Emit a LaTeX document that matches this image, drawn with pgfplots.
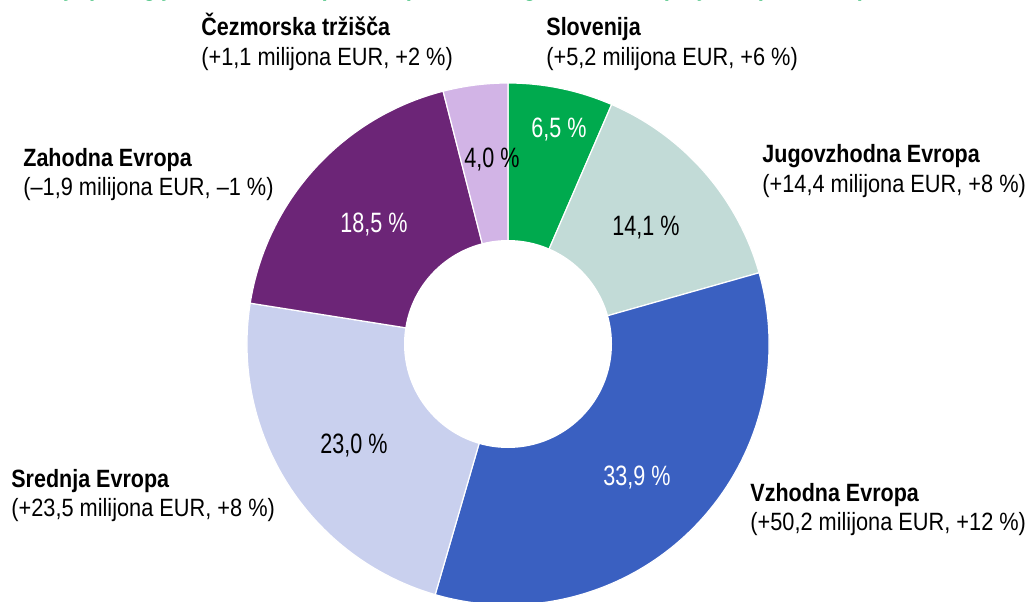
\documentclass[border=0pt]{standalone}
\usepackage{fontspec}
\setmainfont{Liberation Sans}
\usepackage{graphicx}
\usepackage{pgfplots}
\pgfplotsset{compat=1.18}
\definecolor{cSlo}{HTML}{00AA4E}
\definecolor{cJV}{HTML}{C2DBD7}
\definecolor{cV}{HTML}{3A60C1}
\definecolor{cS}{HTML}{C9D0EE}
\definecolor{cZ}{HTML}{6C2577}
\definecolor{cC}{HTML}{D2B4E6}
% wedge: start share (%), share (%), colour
\newcommand\donutwedge[3]{%
  \fill[#3, draw=white, line width=0.6pt] (axis cs:508,257) -- ++({90-3.6*(#1)}:130.5pt)
    arc[start angle={90-3.6*(#1)}, end angle={90-3.6*((#1)+(#2))}, radius=130.5pt] -- cycle;}
\newcommand\outfont{\fontsize{12.5}{15}\selectfont}
\newcommand\infont{\fontsize{14}{16}\selectfont}
% outer label: x, baseline (px from top), bold line, second line
\newcommand\outlab[4]{%
  \node[anchor=base west, inner sep=0] at (axis cs:#1,{601-(#2)}) {\outfont\scalebox{0.86}[1]{\bfseries #3}};
  \node[anchor=base west, inner sep=0] at (axis cs:#1,{601-(#2)-29.5}) {\outfont\scalebox{0.87}[1]{#4}};}
% inner label: x centre, baseline (px from top), colour, text
\newcommand\inlab[4]{%
  \node[anchor=base, inner sep=0, text=#3] at (axis cs:#1,{601-(#2)}) {\infont\scalebox{0.77}[1]{#4}};}
\begin{document}
\begin{tikzpicture}
\begin{axis}[
  x=0.5pt, y=0.5pt,
  xmin=0, xmax=1027, ymin=0, ymax=601,
  hide axis,
]
\donutwedge{0}{6.5}{cSlo}
\donutwedge{6.5}{14.1}{cJV}
\donutwedge{20.6}{33.9}{cV}
\donutwedge{54.5}{23.0}{cS}
\donutwedge{77.5}{18.5}{cZ}
\donutwedge{96.0}{4.0}{cC}
\fill[white] (axis cs:508,257) circle[radius=52pt];
\inlab{559}{137}{white}{6,5 \%}
\inlab{646}{235}{black}{14,1 \%}
\inlab{637}{485}{white}{33,9 \%}
\inlab{354}{453}{black}{23,0 \%}
\inlab{374}{232}{white}{18,5 \%}
\inlab{492}{167}{black}{4,0 \%}
\outlab{201}{36}{Čezmorska tržišča}{(+1,1 milijona EUR, +2 \%)}
\outlab{546}{36}{Slovenija}{(+5,2 milijona EUR, +6 \%)}
\outlab{762}{163}{Jugovzhodna Evropa}{(+14,4 milijona EUR, +8 \%)}
\outlab{23}{166}{Zahodna Evropa}{(–1,9 milijona EUR, –1 \%)}
\outlab{11}{487}{Srednja Evropa}{(+23,5 milijona EUR, +8 \%)}
\outlab{750}{501}{Vzhodna Evropa}{(+50,2 milijona EUR, +12 \%)}
\node[anchor=base west, inner sep=0, text=cSlo, font=\bfseries\fontsize{11}{13}\selectfont]
  at (axis cs:2,604.5) {Prodaja po regijah v letu 2023 (delež, sprememba glede na leto prej; Skupina Krka)};
\end{axis}
\pgfresetboundingbox
\useasboundingbox (0,0) rectangle (513.5pt,300.5pt);
\end{tikzpicture}
\end{document}
